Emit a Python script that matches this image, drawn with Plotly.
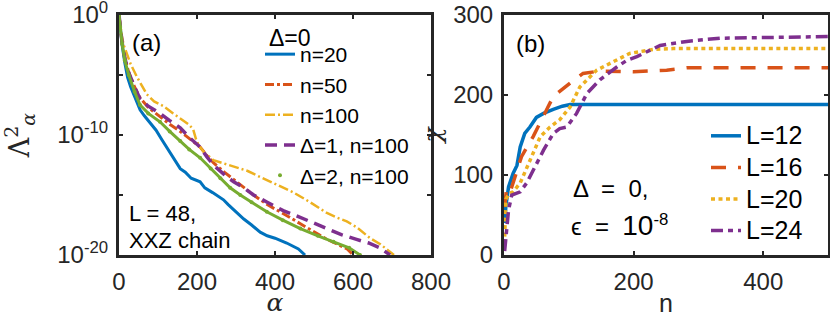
import plotly.graph_objects as go

# ---------------- Panel (a) data: alpha index vs log10(Lambda^2) ----------------
a_n20 = [0, 3, 8, 15, 22, 30, 40, 54, 65, 80, 95, 110, 125, 140, 157, 170, 185, 208, 220, 240, 268, 280, 300, 320, 340, 362, 380, 400, 430, 460, 477]
e_n20 = [0, -1, -2.5, -4, -5.2, -6, -6.8, -7.9, -8.4, -9, -9.6, -10.4, -11.2, -11.9, -12.8, -13.1, -13.6, -13.9, -14.4, -14.8, -15.4, -15.8, -16.4, -17.0, -17.5, -18.1, -18.4, -18.6, -19.0, -19.5, -20]

a_n50 = [0, 3, 8, 15, 25, 40, 54, 75, 105, 130, 157, 180, 208, 225, 242, 270, 294, 320, 345, 380, 414, 440, 465, 500, 533, 560, 585, 601]
e_n50 = [0, -1, -2.3, -3.6, -4.8, -6, -6.9, -7.7, -8.5, -9.1, -9.7, -10.3, -11, -11.7, -12.3, -13.1, -13.7, -14.4, -15, -15.8, -16.4, -16.9, -17.4, -18.1, -18.7, -19.1, -19.5, -20]

a_n100 = [0, 3, 7, 12, 20, 30, 45, 60, 71, 90, 114, 139, 160, 178, 190, 197, 205, 220, 242, 270, 294, 330, 362, 400, 448, 490, 533, 560, 584, 610, 644, 670, 690, 705]
e_n100 = [0, -0.8, -1.7, -2.5, -3.2, -4.1, -5.1, -6, -6.6, -7.2, -7.6, -8.2, -8.7, -9.1, -9.5, -10.3, -10.9, -11.5, -12.1, -12.4, -12.6, -13, -13.5, -14.1, -14.8, -15.6, -16.5, -16.9, -17.2, -17.7, -18.6, -19.1, -19.6, -20]

a_d1 = [0, 3, 8, 15, 25, 40, 54, 75, 105, 130, 157, 180, 208, 225, 242, 270, 294, 320, 345, 380, 421, 460, 490, 533, 570, 609, 640, 669, 686, 695]
e_d1 = [0, -1, -2.3, -3.6, -4.8, -6, -7, -7.6, -8.2, -8.8, -9.4, -10.2, -11, -11.8, -12.5, -13.3, -13.9, -14.4, -15, -15.6, -16.3, -16.8, -17.2, -17.8, -18.3, -18.7, -19, -19.4, -19.8, -20]

a_d2 = [0, 3, 8, 15, 25, 40, 54, 75, 105, 130, 157, 180, 208, 235, 260, 285, 311, 340, 379, 420, 465, 510, 550, 590, 618]
e_d2 = [0, -1, -2.4, -3.8, -5, -6.4, -7.5, -8.2, -8.9, -9.7, -10.5, -11.2, -11.9, -12.8, -13.6, -14.4, -15, -15.6, -16.4, -17.1, -17.8, -18.4, -18.9, -19.4, -20]

# ---------------- Panel (b) data: n vs chi ----------------
n_L12 = [1, 3, 7, 14, 20, 25, 32, 40, 50, 61, 76, 90, 102, 500]
c_L12 = [40, 62, 85, 102, 112, 135, 152, 160, 172, 177, 182, 186, 188, 188]

n_L16 = [1, 4, 10, 17, 27, 45, 61, 76, 102, 122, 148, 200, 251, 282, 500]
c_L16 = [60, 84, 80, 98, 123, 148, 173, 198, 215, 227, 230, 229, 231, 234, 234]

n_L20 = [1, 3, 8, 14, 25, 40, 56, 71, 86, 102, 117, 143, 174, 194, 230, 261, 500]
c_L20 = [23, 70, 77, 79, 90, 119, 148, 160, 169, 185, 210, 231, 244, 252, 257, 258, 258]

n_L24 = [1, 4, 7, 12, 25, 35, 45, 61, 76, 86, 97, 112, 128, 148, 174, 189, 205, 241, 282, 333, 500]
c_L24 = [5, 30, 56, 75, 79, 90, 106, 131, 152, 158, 160, 177, 202, 219, 235, 243, 248, 262, 267, 271, 273]

BLUE, ORANGE, YELLOW, PURPLE, GREEN = "#0072BD", "#D95319", "#EDB120", "#7E2F8E", "#77AC30"
FONT = "Liberation Sans, Arial, sans-serif"
AX = "#262626"


def pw(e):
    return [10.0 ** v for v in e]


def big(t, s):
    return '<span style="font-size:%dpx">%s</span>' % (s, t)


fig = go.Figure()

# panel (a)
fig.add_trace(go.Scatter(x=a_n20, y=pw(e_n20), mode="lines", name="n=20",
                         line=dict(color=BLUE, width=3), legend="legend"))
fig.add_trace(go.Scatter(x=a_n50, y=pw(e_n50), mode="lines", name="n=50",
                         line=dict(color=ORANGE, width=3, dash="9px,3px,3px,3px"), legend="legend"))
fig.add_trace(go.Scatter(x=a_n100, y=pw(e_n100), mode="lines", name="n=100",
                         line=dict(color=YELLOW, width=2.5, dash="10px,3px,2px,3px"), legend="legend"))
fig.add_trace(go.Scatter(x=a_d1, y=pw(e_d1), mode="lines", name="Δ=1, n=100",
                         line=dict(color=PURPLE, width=3.5, dash="12px,7px"), legend="legend"))
fig.add_trace(go.Scatter(x=a_d2, y=pw(e_d2), mode="lines", showlegend=False,
                         line=dict(color=GREEN, width=3), legend="legend"))
fig.add_trace(go.Scatter(x=a_d2, y=pw(e_d2), mode="markers", name="Δ=2, n=100",
                         marker=dict(color=GREEN, size=4), legend="legend"))

# panel (b)
fig.add_trace(go.Scatter(x=n_L12, y=c_L12, mode="lines", name=big("L=12", 25), xaxis="x2", yaxis="y2",
                         line=dict(color=BLUE, width=3.5), legend="legend2"))
fig.add_trace(go.Scatter(x=n_L16, y=c_L16, mode="lines", name=big("L=16", 25), xaxis="x2", yaxis="y2",
                         line=dict(color=ORANGE, width=3.5, dash="15px,12px"), legend="legend2"))
fig.add_trace(go.Scatter(x=n_L20, y=c_L20, mode="lines", name=big("L=20", 25), xaxis="x2", yaxis="y2",
                         line=dict(color=YELLOW, width=3.5, dash="4px,3.5px"), legend="legend2"))
fig.add_trace(go.Scatter(x=n_L24, y=c_L24, mode="lines", name=big("L=24", 25), xaxis="x2", yaxis="y2",
                         line=dict(color=PURPLE, width=3.5, dash="12px,5px,5px,5px"), legend="legend2"))

W, H = 830, 317
ydom = [1 - 255 / H, 1 - 15 / H]
axcommon = dict(showline=True, linecolor=AX, linewidth=3, mirror="ticks", ticks="inside",
                ticklen=4, tickwidth=2, tickcolor=AX, showgrid=False, zeroline=False,
                automargin=False, ticklabelstandoff=3, ticklabeloverflow="allow",
                tickfont=dict(family=FONT, size=24, color=AX))


def ann(text, x, y, size, xanchor="left"):
    return dict(text=text, x=x / W, y=1 - y / H, xref="paper", yref="paper", xanchor=xanchor,
                yanchor="middle", showarrow=False, font=dict(family=FONT, size=size, color="#000"))


fig.update_layout(
    width=W, height=H, autosize=False,
    margin=dict(l=0, r=0, t=0, b=0, autoexpand=False),
    paper_bgcolor="white", plot_bgcolor="white",
    xaxis=dict(domain=[119 / W, 431 / W], range=[0, 800], tickvals=[0, 200, 400, 600, 800],
               title=dict(text="<i>α</i>", font=dict(family="DejaVu Serif", size=25, color=AX), standoff=4),
               **axcommon),
    yaxis=dict(domain=ydom, type="log", range=[-20, 0],
               tickvals=[1e-20, 1e-15, 1e-10, 1e-5, 1],
               ticktext=["10<sup>-20</sup>", "", "10<sup>-10</sup>", "", "10<sup>0</sup>"],
               title=dict(text="Λ<sup>2</sup><sub><i>α</i></sub>", font=dict(family="DejaVu Serif", size=27, color=AX), standoff=26),
               **axcommon),
    xaxis2=dict(domain=[504 / W, 828 / W], range=[0, 500], tickvals=[0, 200, 400], anchor="y2",
                title=dict(text="n", font=dict(family=FONT, size=25, color=AX), standoff=3),
                **axcommon),
    yaxis2=dict(domain=ydom, range=[0, 300], tickvals=[0, 100, 200, 300], anchor="x2",
                title=dict(text="<i>χ</i>", font=dict(family="DejaVu Serif", size=25, color=AX), standoff=5),
                **axcommon),
    legend=dict(x=260 / W, y=1 - 34 / H, xanchor="left", yanchor="top",
                bgcolor="rgba(0,0,0,0)", borderwidth=0,
                font=dict(family=FONT, size=21, color="#000"), itemwidth=30),
    legend2=dict(x=706 / W, y=1 - 115 / H, xanchor="left", yanchor="top",
                 bgcolor="rgba(0,0,0,0)", borderwidth=0,
                 font=dict(family=FONT, size=22, color="#000"), itemwidth=30),
    annotations=[
        ann("Δ=0", 267, 38, 23),
        ann("(a)", 130, 42, 24),
        ann("L = 48,", 127, 213, 22),
        ann("XXZ chain", 127, 240, 22),
        ann("(b)", 514, 43, 24),
        ann("Δ  =  0,", 571, 188, 24),
        ann("ϵ  =  " + big("10", 28) + "<sup>-8</sup>", 569, 225, 24),
    ],
)

fig.write_html("out.html", config={"displayModeBar": False},
               post_script="document.body.style.margin='0px';")
